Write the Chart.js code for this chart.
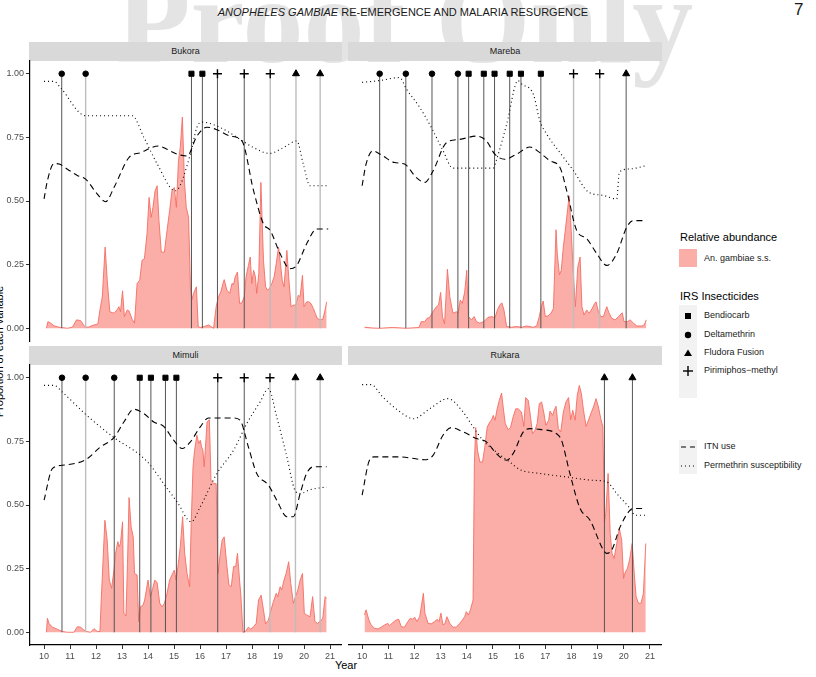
<!DOCTYPE html>
<html>
<head>
<meta charset="utf-8">
<script src="https://cdn.jsdelivr.net/npm/chart.js@4.4.0/dist/chart.umd.min.js"></script>
<style>
  body { margin: 0; width: 816px; height: 677px; position: relative; overflow: hidden; background: #fff; font-family: "Liberation Sans", Arial, sans-serif; }
  .abs { position: absolute; }
  #watermark { left: 116px; top: -40px; font: bold 122px/122px "Liberation Serif", "Times New Roman", serif; color: #e4e4e4; white-space: nowrap; z-index: 0; }
  #title { left: 0; top: 6px; width: 806px; text-align: center; font-size: 11px; line-height: 13px; color: #1a1a1a; z-index: 2; }
  #pageno { left: 794px; top: 0px; font-size: 17px; line-height: 20px; color: #1a1a1a; z-index: 2; }
  .strip { background: #d9d9d9; height: 19px; line-height: 19px; text-align: center; font-size: 9px; color: #1a1a1a; z-index: 1; }
  canvas { position: absolute; z-index: 3; }
  .lg { font-size: 9px; line-height: 11px; color: #1a1a1a; white-space: nowrap; }
  .lgt { font-size: 11px; line-height: 13px; color: #000; white-space: nowrap; }
</style>
</head>
<body>
<div id="watermark" class="abs">Proof Only</div>
<div id="title" class="abs"><i>ANOPHELES GAMBIAE</i> RE-EMERGENCE AND MALARIA RESURGENCE</div>
<div id="pageno" class="abs">7</div>

<div class="abs strip" style="left:29px;top:42px;width:313px">Bukora</div>
<div class="abs strip" style="left:348px;top:42px;width:314px">Mareba</div>
<div class="abs strip" style="left:29px;top:346px;width:313px">Mimuli</div>
<div class="abs strip" style="left:348px;top:346px;width:314px">Rukara</div>

<canvas id="cBukora" width="342" height="300" style="left:0;top:51px"></canvas>
<canvas id="cMareba" width="314" height="300" style="left:348px;top:51px"></canvas>
<canvas id="cMimuli" width="342" height="310" style="left:0;top:355px"></canvas>
<canvas id="cRukara" width="314" height="310" style="left:348px;top:355px"></canvas>

<div class="abs" style="left:-101px;top:345px;width:200px;height:13px;line-height:13px;font-size:11px;text-align:center;transform:rotate(-90deg);color:#000">Proportion of each variable</div>
<div class="abs" style="left:326px;top:659px;width:40px;text-align:center;font-size:11px;line-height:13px;color:#000">Year</div>

<!-- legend -->
<div class="abs lgt" style="left:680px;top:231px">Relative abundance</div>
<div class="abs" style="left:679px;top:249px;width:18px;height:18px;background:rgba(248,118,109,0.6)"></div>
<div class="abs lg" style="left:704px;top:253px">An. gambiae s.s.</div>
<div class="abs lgt" style="left:680px;top:290px">IRS Insecticides</div>
<svg class="abs" style="left:660px;top:290px" width="50" height="190">
  <rect x="19" y="15" width="18" height="93" fill="#f2f2f2"/>
  <rect x="25" y="23" width="6" height="6" fill="#000"/>
  <circle cx="28" cy="45" r="3.2" fill="#000"/>
  <polygon points="28,59.5 32,66 24,66" fill="#000"/>
  <line x1="23" y1="81" x2="33" y2="81" stroke="#000" stroke-width="1.4"/>
  <line x1="28" y1="76" x2="28" y2="86" stroke="#000" stroke-width="1.4"/>
  <rect x="19" y="150" width="18" height="34" fill="#f2f2f2"/>
  <line x1="21" y1="157" x2="35" y2="157" stroke="#000" stroke-width="1.1" stroke-dasharray="5,4"/>
  <line x1="21" y1="176" x2="35" y2="176" stroke="#000" stroke-width="1.1" stroke-dasharray="1,3"/>
</svg>
<div class="abs lg" style="left:704px;top:310px">Bendiocarb</div>
<div class="abs lg" style="left:704px;top:329px">Deltamethrin</div>
<div class="abs lg" style="left:704px;top:347px">Fludora Fusion</div>
<div class="abs lg" style="left:704px;top:365px">Pirimiphos−methyl</div>
<div class="abs lg" style="left:704px;top:441px">ITN use</div>
<div class="abs lg" style="left:704px;top:460px">Permethrin susceptibility</div>

<script>
// axis ticks
const xTicks = [10, 11, 12, 13, 14, 15, 16, 17, 18, 19, 20, 21];
const yTicks = [0, 0.25, 0.5, 0.75, 1];

// ---- Bukora ----
const bukoraAbYear = [10.09,10.15,10.26,10.38,10.51,10.64,10.90,11.09,11.25,11.41,11.56,11.69,11.92,12.07,12.15,12.24,12.35,12.43,12.53,12.69,12.81,12.88,12.94,13.02,13.09,13.20,13.27,13.39,13.48,13.58,13.68,13.77,13.86,13.96,14.04,14.12,14.19,14.27,14.35,14.42,14.51,14.63,14.73,14.83,14.92,15.01,15.09,15.17,15.24,15.32,15.40,15.47,15.56,15.63,15.68,15.75,15.86,15.93,16.01,16.16,16.33,16.52,16.62,16.71,16.80,16.88,16.93,17.03,17.14,17.23,17.29,17.35,17.44,17.52,17.61,17.70,17.77,17.86,17.93,17.99,18.06,18.13,18.18,18.26,18.34,18.44,18.52,18.59,18.67,18.76,18.85,18.93,19.02,19.08,19.16,19.23,19.34,19.41,19.50,19.59,19.68,19.78,19.85,19.94,20.00,20.10,20.18,20.26,20.36,20.43,20.51,20.61,20.72,20.81,20.87];
const bukoraAb = [0,0.026,0.020,0.010,0.006,0.003,0,0.004,0.033,0.030,0.007,0.004,0.013,0.017,0.072,0.123,0.319,0.189,0.065,0.059,0.072,0.085,0.065,0.147,0.046,0.072,0.068,0.035,0.020,0.176,0.189,0.267,0.273,0.371,0.514,0.436,0.475,0.540,0.560,0.423,0.299,0.299,0.384,0.462,0.540,0.553,0.475,0.658,0.710,0.83,0.579,0.475,0.436,0.163,0.111,0.137,0.163,0.007,0.003,0.007,0.013,0,0.085,0.124,0.143,0.176,0.191,0.150,0.137,0.176,0.172,0.202,0.221,0.098,0.100,0.124,0.202,0.247,0.280,0.176,0.228,0.202,0.137,0.215,0.573,0.267,0.163,0.150,0.156,0.176,0.202,0.254,0.319,0.267,0.189,0.163,0.306,0.202,0.085,0.091,0.091,0.130,0.124,0.208,0.085,0.104,0.104,0.098,0.078,0.059,0.039,0.033,0.035,0.072,0.104];
const bukoraItnYear = [10,10.13,10.38,10.58,10.9,11.28,11.6,12.05,12.37,12.69,13.26,13.71,14.41,14.73,15.12,15.5,15.88,16.27,16.65,17.16,17.61,18.06,18.44,18.7,19.08,19.46,19.72,20.1,20.49,20.93];
const bukoraItn = [0.508,0.58,0.647,0.645,0.625,0.60,0.586,0.527,0.497,0.553,0.67,0.69,0.716,0.703,0.684,0.677,0.755,0.79,0.78,0.755,0.736,0.54,0.41,0.384,0.293,0.234,0.247,0.332,0.39,0.39];
const bukoraPermYear = [10,10.38,10.64,11.6,13.39,13.84,14.35,15.05,15.63,15.88,16.07,16.52,17.03,17.54,18.06,18.67,19.21,19.72,19.97,20.23,20.93];
const bukoraPerm = [0.97,0.97,0.944,0.835,0.835,0.75,0.646,0.54,0.684,0.79,0.81,0.80,0.775,0.742,0.71,0.687,0.71,0.736,0.645,0.56,0.56];
const bukoraIrsYear = [10.68,11.60,15.67,16.09,16.67,17.70,18.70,19.69,20.62];
const bukoraIrsType = ["D","D","B","B","P","P","P","F","F"];
const bukoraIrsShade = [1,0,1,1,1,1,0,0,0];

// ---- Mareba ----
const marebaAbYear = [10.09,10.41,10.66,11.17,11.69,12.17,12.26,12.39,12.48,12.58,12.68,12.84,12.92,13.00,13.07,13.15,13.26,13.35,13.47,13.60,13.67,13.75,13.83,13.92,14.00,14.06,14.18,14.28,14.37,14.50,14.65,14.81,14.98,15.07,15.17,15.26,15.34,15.42,15.52,15.71,15.90,16.09,16.28,16.54,16.67,16.77,16.85,16.92,17.00,17.11,17.22,17.31,17.41,17.46,17.54,17.61,17.69,17.82,17.91,17.97,18.07,18.15,18.24,18.33,18.40,18.48,18.58,18.68,18.79,18.89,18.94,19.03,19.12,19.22,19.35,19.43,19.54,19.67,19.80,19.94,20.01,20.14,20.24,20.37,20.50,20.69,20.78,20.86];
const marebaAb = [0.004,0.001,0,0.003,0,0.003,0.026,0.026,0.039,0.042,0.061,0.085,0.091,0.141,0.046,0.017,0.232,0.124,0.059,0.065,0.059,0.111,0.098,0.143,0.228,0.046,0.033,0.046,0.026,0.020,0.026,0.043,0.046,0.039,0.072,0.091,0.10,0.072,0.007,0.004,0.007,0.004,0.009,0.004,0.009,0.046,0.085,0.107,0.046,0.049,0.059,0.078,0.387,0.29,0.21,0.228,0.32,0.436,0.52,0.423,0.221,0.085,0.240,0.280,0.085,0.052,0.072,0.059,0.078,0.098,0.104,0.065,0.046,0.046,0.085,0.061,0.039,0.033,0.046,0.061,0.026,0.026,0.033,0.020,0.009,0.009,0.013,0.033];
const marebaItnYear = [10,10.15,10.41,10.79,11.24,11.62,12.07,12.39,12.71,13.22,13.73,14.37,14.75,15.07,15.45,15.9,16.41,16.79,17.18,17.56,17.82,18.2,18.58,18.97,19.35,19.73,20.11,20.37,20.86];
const marebaItn = [0.56,0.645,0.697,0.677,0.651,0.645,0.592,0.573,0.618,0.729,0.742,0.755,0.736,0.684,0.664,0.684,0.712,0.69,0.658,0.632,0.54,0.384,0.352,0.293,0.247,0.293,0.397,0.423,0.423];
const marebaPermYear = [10,10.66,11.43,11.69,12.2,12.71,13.09,13.47,15.01,15.13,15.52,15.96,16.09,16.54,16.79,17.05,17.56,18.07,18.65,19.22,19.73,19.83,20.24,20.86];
const marebaPerm = [0.966,0.973,0.985,0.94,0.868,0.776,0.698,0.629,0.629,0.66,0.80,0.973,0.96,0.92,0.816,0.763,0.69,0.62,0.535,0.522,0.508,0.613,0.626,0.639];
const marebaIrsYear = [10.67,11.67,12.67,13.66,14.07,14.65,15.06,15.64,16.07,16.83,18.08,19.08,20.09];
const marebaIrsType = ["D","D","D","D","B","B","B","B","B","B","P","P","F"];
const marebaIrsShade = [1,1,1,1,1,1,1,1,1,1,0,0,1];

// ---- Mimuli ----
const mimuliAbYear = [10.09,10.13,10.19,10.32,10.51,10.70,10.90,11.15,11.28,11.41,11.53,11.64,11.79,11.92,12.05,12.15,12.20,12.34,12.43,12.51,12.60,12.69,12.75,12.84,12.89,12.94,13.02,13.07,13.15,13.21,13.27,13.35,13.43,13.48,13.58,13.64,13.71,13.81,13.87,14.00,14.09,14.18,14.26,14.35,14.45,14.54,14.63,14.73,14.83,14.92,15.01,15.08,15.15,15.24,15.33,15.41,15.50,15.60,15.66,15.73,15.79,15.88,15.95,16.01,16.06,16.11,16.16,16.27,16.36,16.42,16.47,16.53,16.62,16.69,16.78,16.85,16.93,17.01,17.11,17.20,17.29,17.37,17.44,17.52,17.57,17.65,17.74,17.86,17.95,18.06,18.16,18.25,18.35,18.44,18.52,18.63,18.73,18.82,18.93,18.99,19.08,19.14,19.23,19.31,19.41,19.49,19.59,19.67,19.76,19.85,19.94,20.01,20.10,20.23,20.33,20.42,20.51,20.61,20.72,20.81,20.87];
const mimuliAb = [0,0.055,0.035,0.020,0.012,0.003,0,0,0.022,0.020,0.009,0.003,0,0.014,0.003,0.003,0.127,0.44,0.362,0.205,0.173,0.244,0.31,0.356,0.336,0.349,0.434,0.075,0.064,0.27,0.529,0.414,0.375,0.231,0.225,0.042,0.10,0.107,0.127,0.205,0.14,0.173,0.205,0.195,0.114,0.10,0.114,0.153,0.205,0.225,0.244,0.205,0.258,0.336,0.454,0.31,0.231,0.179,0.427,0.65,0.715,0.774,0.741,0.754,0.728,0.715,0.65,0.826,0.835,0.597,0.591,0.584,0.584,0.231,0.31,0.362,0.375,0.284,0.186,0.179,0.258,0.258,0.31,0.205,0.146,0,0.003,0.020,0.012,0.022,0.035,0.127,0.146,0.088,0.033,0.048,0.088,0.12,0.153,0.14,0.179,0.166,0.205,0.231,0.277,0.192,0.114,0.14,0.166,0.205,0.231,0.075,0.068,0.061,0.14,0.042,0.035,0.042,0.055,0.14,0.133];
const mimuliItnYear = [10,10.32,10.70,11.6,12.17,12.69,13.07,13.45,13.84,14.22,14.6,14.99,15.31,15.63,16.01,16.33,17.29,17.54,17.86,18.18,18.63,18.95,19.34,19.59,19.85,20.1,20.36,20.87];
const mimuliItn = [0.519,0.643,0.656,0.678,0.728,0.765,0.826,0.876,0.859,0.826,0.809,0.754,0.722,0.748,0.807,0.842,0.842,0.833,0.728,0.624,0.578,0.519,0.454,0.454,0.545,0.624,0.65,0.65];
const mimuliPermYear = [10,10.38,10.70,11.6,12.69,13.71,14.09,14.6,15.12,15.66,16.01,16.65,17.29,17.8,18.31,18.63,18.95,19.34,19.65,19.85,20.23,20.87];
const mimuliPerm = [0.97,0.97,0.944,0.856,0.765,0.695,0.656,0.584,0.512,0.434,0.493,0.624,0.715,0.82,0.905,0.957,0.846,0.689,0.558,0.545,0.56,0.571];
const mimuliIrsYear = [10.69,11.60,12.70,13.68,14.11,14.67,15.09,16.68,17.70,18.69,19.67,20.62];
const mimuliIrsType = ["D","D","D","B","B","B","B","P","P","P","F","F"];
const mimuliIrsShade = [1,0,1,1,1,1,1,1,1,0,0,0];

// ---- Rukara ----
const rukaraAbYear = [10.09,10.15,10.26,10.34,10.47,10.60,10.73,10.86,10.98,11.05,11.17,11.30,11.40,11.49,11.62,11.75,11.84,11.92,12.01,12.09,12.20,12.27,12.34,12.40,12.52,12.64,12.77,12.87,12.94,13.01,13.09,13.17,13.24,13.35,13.47,13.60,13.73,13.83,13.92,13.98,14.06,14.14,14.24,14.29,14.34,14.41,14.50,14.60,14.69,14.78,14.88,14.94,15.01,15.08,15.16,15.24,15.33,15.39,15.47,15.58,15.67,15.77,15.87,15.96,16.09,16.18,16.25,16.35,16.44,16.51,16.60,16.69,16.77,16.86,16.95,17.02,17.13,17.18,17.28,17.34,17.41,17.50,17.59,17.69,17.79,17.89,17.97,18.05,18.14,18.22,18.30,18.38,18.46,18.56,18.65,18.74,18.84,18.94,19.03,19.12,19.20,19.26,19.31,19.40,19.48,19.55,19.63,19.73,19.83,19.92,19.99,20.06,20.14,20.22,20.32,20.40,20.47,20.56,20.66,20.75,20.84];
const rukaraAb = [0.068,0.088,0.048,0.029,0.016,0.013,0.020,0.029,0.035,0.026,0.038,0.048,0.051,0.022,0.020,0.042,0.055,0.051,0.059,0.042,0.061,0.107,0.153,0.075,0.035,0.033,0.042,0.051,0.042,0.075,0.029,0.035,0.061,0.035,0.020,0.020,0.035,0.048,0.061,0.081,0.068,0.088,0.127,0.663,0.804,0.715,0.669,0.669,0.728,0.806,0.826,0.833,0.852,0.833,0.878,0.911,0.94,0.885,0.82,0.796,0.804,0.846,0.878,0.878,0.865,0.809,0.922,0.911,0.843,0.780,0.793,0.82,0.898,0.905,0.859,0.813,0.833,0.869,0.852,0.872,0.888,0.80,0.787,0.865,0.905,0.922,0.835,0.872,0.833,0.931,0.97,0.937,0.872,0.809,0.833,0.859,0.885,0.918,0.885,0.839,0.807,0.434,0.467,0.624,0.388,0.31,0.29,0.349,0.408,0.362,0.212,0.238,0.251,0.284,0.349,0.231,0.14,0.114,0.114,0.153,0.349];
const rukaraItnYear = [10,10.28,10.47,11.43,12.39,12.71,13.09,13.41,13.86,14.37,14.75,15.13,15.52,15.77,16.16,16.41,16.79,17.43,17.62,17.94,18.33,18.71,19.22,19.35,19.54,19.86,20.24,20.37,20.84];
const rukaraItn = [0.539,0.676,0.689,0.689,0.678,0.695,0.774,0.804,0.787,0.761,0.748,0.702,0.676,0.702,0.787,0.80,0.797,0.78,0.754,0.624,0.486,0.44,0.323,0.31,0.323,0.414,0.48,0.486,0.486];
const rukaraPermYear = [10,10.34,10.79,11.37,11.97,12.58,13.28,13.86,14.24,14.62,15.13,15.64,16.03,16.79,17.82,18.84,19.35,19.73,20.24,20.43,20.84];
const rukaraPerm = [0.973,0.973,0.924,0.872,0.839,0.878,0.918,0.865,0.807,0.754,0.708,0.669,0.639,0.624,0.61,0.597,0.591,0.545,0.486,0.46,0.46];
const rukaraIrsYear = [19.26, 20.33];
const rukaraIrsType = ["F", "F"];
const rukaraIrsShade = [1, 1];

Chart.defaults.font.family = '"Liberation Sans", Arial, sans-serif';
Chart.defaults.font.size = 9;
Chart.defaults.color = "#4d4d4d";

// marker look per insecticide
const markers = {
  B: { style: "rect", r: 3.6, w: 1 },
  D: { style: "circle", r: 2.8, w: 1 },
  F: { style: "triangle", r: 4, w: 1 },
  P: { style: "cross", r: 4.5, w: 1.4 }
};

function pairs(xs, ys) {
  const out = [];
  for (let i = 0; i < Math.min(xs.length, ys.length); i++) out.push({ x: xs[i], y: ys[i] });
  return out;
}

function makeChart(id, s, showX, showY) {
  const datasets = [];

  // relative abundance
  datasets.push({
    data: pairs(s.abYear, s.ab),
    fill: "origin",
    backgroundColor: "rgba(248,118,109,0.6)",
    borderColor: "rgba(244,110,100,0.9)",
    borderWidth: 1,
    pointRadius: 0,
    tension: 0,
    order: 10
  });

  // IRS rounds
  s.irsYear.forEach((yr, i) => {
    const m = markers[s.irsType[i]];
    const dark = s.irsShade[i] === 1;
    datasets.push({
      data: [{ x: yr, y: 0 }, { x: yr, y: 1 }],
      borderColor: dark ? "#555555" : "#bdbdbd",
      borderWidth: dark ? 1 : 1.4,
      pointStyle: m.style,
      pointRadius: [0, m.r],
      pointBackgroundColor: "#000",
      pointBorderColor: "#000",
      pointBorderWidth: m.w,
      fill: false,
      order: 5
    });
  });

  // ITN use
  datasets.push({
    data: pairs(s.itnYear, s.itn),
    borderColor: "#000",
    borderWidth: 1.1,
    borderDash: [6, 4],
    pointRadius: 0,
    fill: false,
    cubicInterpolationMode: "monotone",
    order: 1
  });

  // permethrin susceptibility
  datasets.push({
    data: pairs(s.permYear, s.perm),
    borderColor: "#000",
    borderWidth: 1.1,
    borderDash: [1, 3],
    pointRadius: 0,
    fill: false,
    cubicInterpolationMode: "monotone",
    order: 1
  });

  return new Chart(document.getElementById(id), {
    type: "line",
    data: { datasets },
    options: {
      responsive: false,
      animation: false,
      events: [],
      layout: { autoPadding: false, padding: { top: 10, bottom: showX ? 0 : 10, left: 0, right: 0 } },
      plugins: { legend: { display: false }, tooltip: { enabled: false } },
      scales: {
        x: {
          type: "linear",
          min: 9.46,
          max: 21.46,
          display: showX,
          afterBuildTicks: sc => { sc.ticks = xTicks.map(v => ({ value: v })); },
          afterFit: sc => { sc.height = showX ? 20 : 0; },
          ticks: { padding: 2, color: "#4d4d4d", font: { size: 9 }, maxRotation: 0 },
          grid: { drawOnChartArea: false, drawTicks: true, tickLength: 4, color: "#333" },
          border: { display: true, color: "#000", width: 1.2 }
        },
        y: {
          type: "linear",
          min: -0.05,
          max: 1.05,
          display: showY,
          afterBuildTicks: sc => { sc.ticks = yTicks.map(v => ({ value: v })); },
          afterFit: sc => { sc.width = showY ? 30 : 0; },
          ticks: { padding: 2, color: "#4d4d4d", font: { size: 9 }, callback: v => Number(v).toFixed(2) },
          grid: { drawOnChartArea: false, drawTicks: true, tickLength: 4, color: "#333" },
          border: { display: true, color: "#000", width: 1.2 }
        }
      }
    }
  });
}

makeChart("cBukora", {
  abYear: bukoraAbYear, ab: bukoraAb, itnYear: bukoraItnYear, itn: bukoraItn,
  permYear: bukoraPermYear, perm: bukoraPerm,
  irsYear: bukoraIrsYear, irsType: bukoraIrsType, irsShade: bukoraIrsShade
}, false, true);

makeChart("cMareba", {
  abYear: marebaAbYear, ab: marebaAb, itnYear: marebaItnYear, itn: marebaItn,
  permYear: marebaPermYear, perm: marebaPerm,
  irsYear: marebaIrsYear, irsType: marebaIrsType, irsShade: marebaIrsShade
}, false, false);

makeChart("cMimuli", {
  abYear: mimuliAbYear, ab: mimuliAb, itnYear: mimuliItnYear, itn: mimuliItn,
  permYear: mimuliPermYear, perm: mimuliPerm,
  irsYear: mimuliIrsYear, irsType: mimuliIrsType, irsShade: mimuliIrsShade
}, true, true);

makeChart("cRukara", {
  abYear: rukaraAbYear, ab: rukaraAb, itnYear: rukaraItnYear, itn: rukaraItn,
  permYear: rukaraPermYear, perm: rukaraPerm,
  irsYear: rukaraIrsYear, irsType: rukaraIrsType, irsShade: rukaraIrsShade
}, true, false);
</script>
</body>
</html>
